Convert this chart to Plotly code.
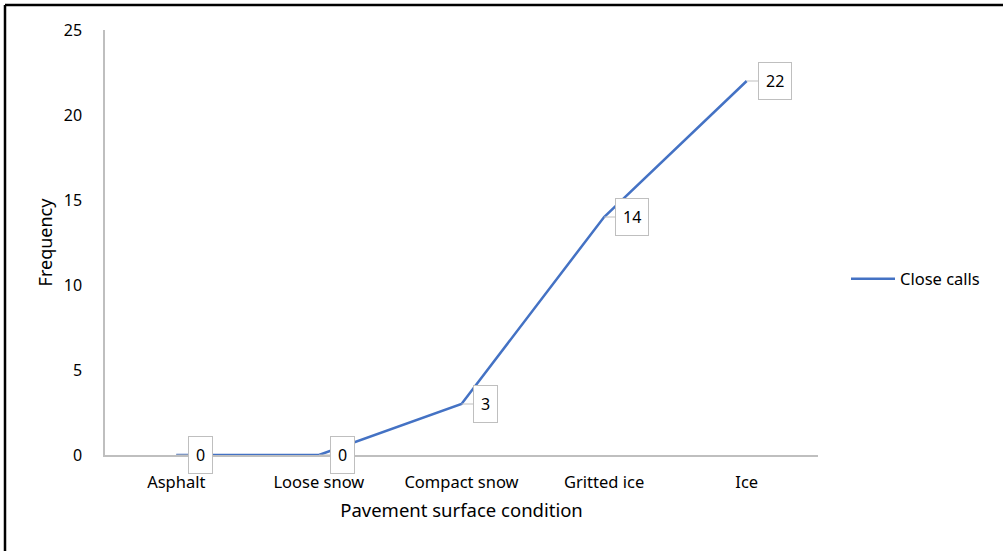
import plotly.graph_objects as go

categories = ["Asphalt", "Loose snow", "Compact snow", "Gritted ice", "Ice"]
close_calls = [0, 0, 3, 14, 22]
y_ticks = [0, 5, 10, 15, 20, 25]

L, R, T, B = 105, 185, 30, 96
W, H = 1003, 551
pw, ph = W - L - R, H - T - B

def px_to_paper_x(px):
    return (px - L) / pw

def px_to_paper_y(py):
    return (H - B - py) / ph

font = "Noto Sans, Open Sans, sans-serif"

fig = go.Figure()
fig.add_trace(go.Scatter(
    x=categories, y=close_calls, mode="lines", name="Close calls",
    line=dict(color="#4472C4", width=2.5),
))

for c, v in zip(categories, close_calls):
    fig.add_annotation(
        x=c, y=v, xref="x", yref="y", text=str(v),
        showarrow=True, arrowhead=0, arrowwidth=1, arrowcolor="#BFBFBF",
        ax=24 if v < 10 else 28, ay=0, standoff=0,
        bgcolor="white", bordercolor="#BFBFBF", borderwidth=1, borderpad=7,
        font=dict(family=font, size=16, color="#000000"),
    )

fig.update_layout(
    width=W, height=H,
    margin=dict(l=L, r=R, t=T, b=B),
    paper_bgcolor="white", plot_bgcolor="white",
    font=dict(family=font, color="#404040"),
    showlegend=True,
    legend=dict(x=px_to_paper_x(846), y=px_to_paper_y(279), xanchor="left", yanchor="middle",
                itemwidth=44,
                font=dict(family=font, size=16.5, color="#000000"), bgcolor="rgba(0,0,0,0)"),
    xaxis=dict(
        type="category", range=[-0.5, 4.5], showgrid=False, zeroline=False,
        showline=True, linecolor="#BFBFBF", linewidth=1.5, ticks="",
        ticklabelstandoff=11,
        tickfont=dict(family=font, size=16.5, color="#000000"),
        title=dict(text="Pavement surface condition", font=dict(family=font, size=18.5, color="#000000"), standoff=13),
    ),
    yaxis=dict(
        range=[0, 25], tickvals=y_ticks, showgrid=False, zeroline=False,
        showline=True, linecolor="#BFBFBF", linewidth=1.5, ticks="",
        ticklabelstandoff=18,
        tickfont=dict(family=font, size=16, color="#000000"),
        title=dict(text="Frequency", font=dict(family=font, size=18, color="#000000"), standoff=6),
    ),
    shapes=[
        dict(type="line", xref="paper", yref="paper",
             x0=px_to_paper_x(5), x1=px_to_paper_x(1003), y0=px_to_paper_y(5), y1=px_to_paper_y(5),
             line=dict(color="#000000", width=2.5)),
        dict(type="line", xref="paper", yref="paper",
             x0=px_to_paper_x(5), x1=px_to_paper_x(5), y0=px_to_paper_y(5), y1=px_to_paper_y(551),
             line=dict(color="#000000", width=2.5)),
    ],
)

fig.write_html("out.html", config={"displayModeBar": False},
               post_script="document.body.style.margin='0';")
